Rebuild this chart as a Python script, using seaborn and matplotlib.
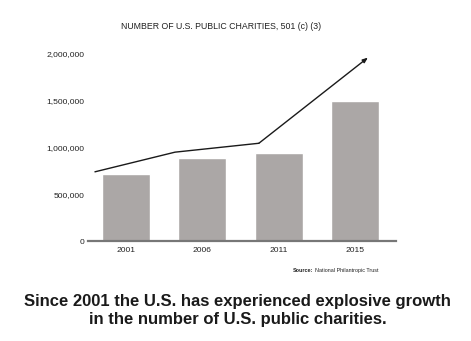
import matplotlib
matplotlib.use("Agg")
import matplotlib.pyplot as plt
import seaborn as sns
import pandas as pd

years = ["2001", "2006", "2011", "2015"]
charities = [715000, 890000, 940000, 1500000]
trend_x = [-0.41, 0.64, 1.74, 3.17]
trend_y = [740000, 950000, 1045000, 1960000]
yticks = [0, 500000, 1000000, 1500000, 2000000]
ytick_labels = ["0", "500,000", "1,000,000", "1,500,000", "2,000,000"]

sns.set_theme(style="white")
plt.rcParams["font.family"] = ["Liberation Sans", "DejaVu Sans"]

df = pd.DataFrame({"year": years, "count": charities})

fig = plt.figure(figsize=(4.71, 3.41), dpi=100)
ax = fig.add_axes([0.187, 0.293, 0.654, 0.549])

sns.barplot(data=df, x="year", y="count", color="#aba7a6", saturation=1,
            width=0.63, ax=ax, zorder=2)

ax.plot(trend_x[:-1], trend_y[:-1], color="#1a1a1a", lw=1.0, zorder=3,
        solid_joinstyle="miter", clip_on=False)
ax.annotate("", xy=(trend_x[-1], trend_y[-1]), xytext=(trend_x[-2], trend_y[-2]),
            arrowprops=dict(arrowstyle="-|>,head_length=0.25,head_width=0.1",
                            color="#1a1a1a", lw=1.0, shrinkA=0, shrinkB=0),
            annotation_clip=False, zorder=3)

ax.set_xlim(-0.5, 3.54)
ax.set_ylim(0, 2000000)
ax.set_yticks(yticks)
ax.set_yticklabels(ytick_labels)
ax.set_xlabel("")
ax.set_ylabel("")
ax.tick_params(axis="both", length=0, labelsize=6.1, colors="#222222")
ax.tick_params(axis="y", pad=2.5)
ax.tick_params(axis="x", pad=4)

for s in ["top", "right", "left"]:
    ax.spines[s].set_visible(False)
ax.spines["bottom"].set_color("#777777")
ax.spines["bottom"].set_linewidth(1.6)
ax.spines["bottom"].set_zorder(4)

fig.text(0.47, 0.923, "NUMBER OF U.S. PUBLIC CHARITIES, 501 (c) (3)",
         ha="center", va="center", fontsize=6.3, color="#222222")

fig.text(0.622, 0.207, "Source:", ha="left", va="center", fontsize=3.9,
         fontweight="bold", color="#222222")
fig.text(0.668, 0.207, "National Philantropic Trust", ha="left", va="center",
         fontsize=3.9, color="#222222")

fig.text(0.504, 0.088, "Since 2001 the U.S. has experienced explosive growth\nin the number of U.S. public charities.",
         ha="center", va="center", fontsize=12.0, fontweight="bold",
         color="#1a1a1a", linespacing=1.25)

fig.savefig("out.png", dpi=100, facecolor="white")
